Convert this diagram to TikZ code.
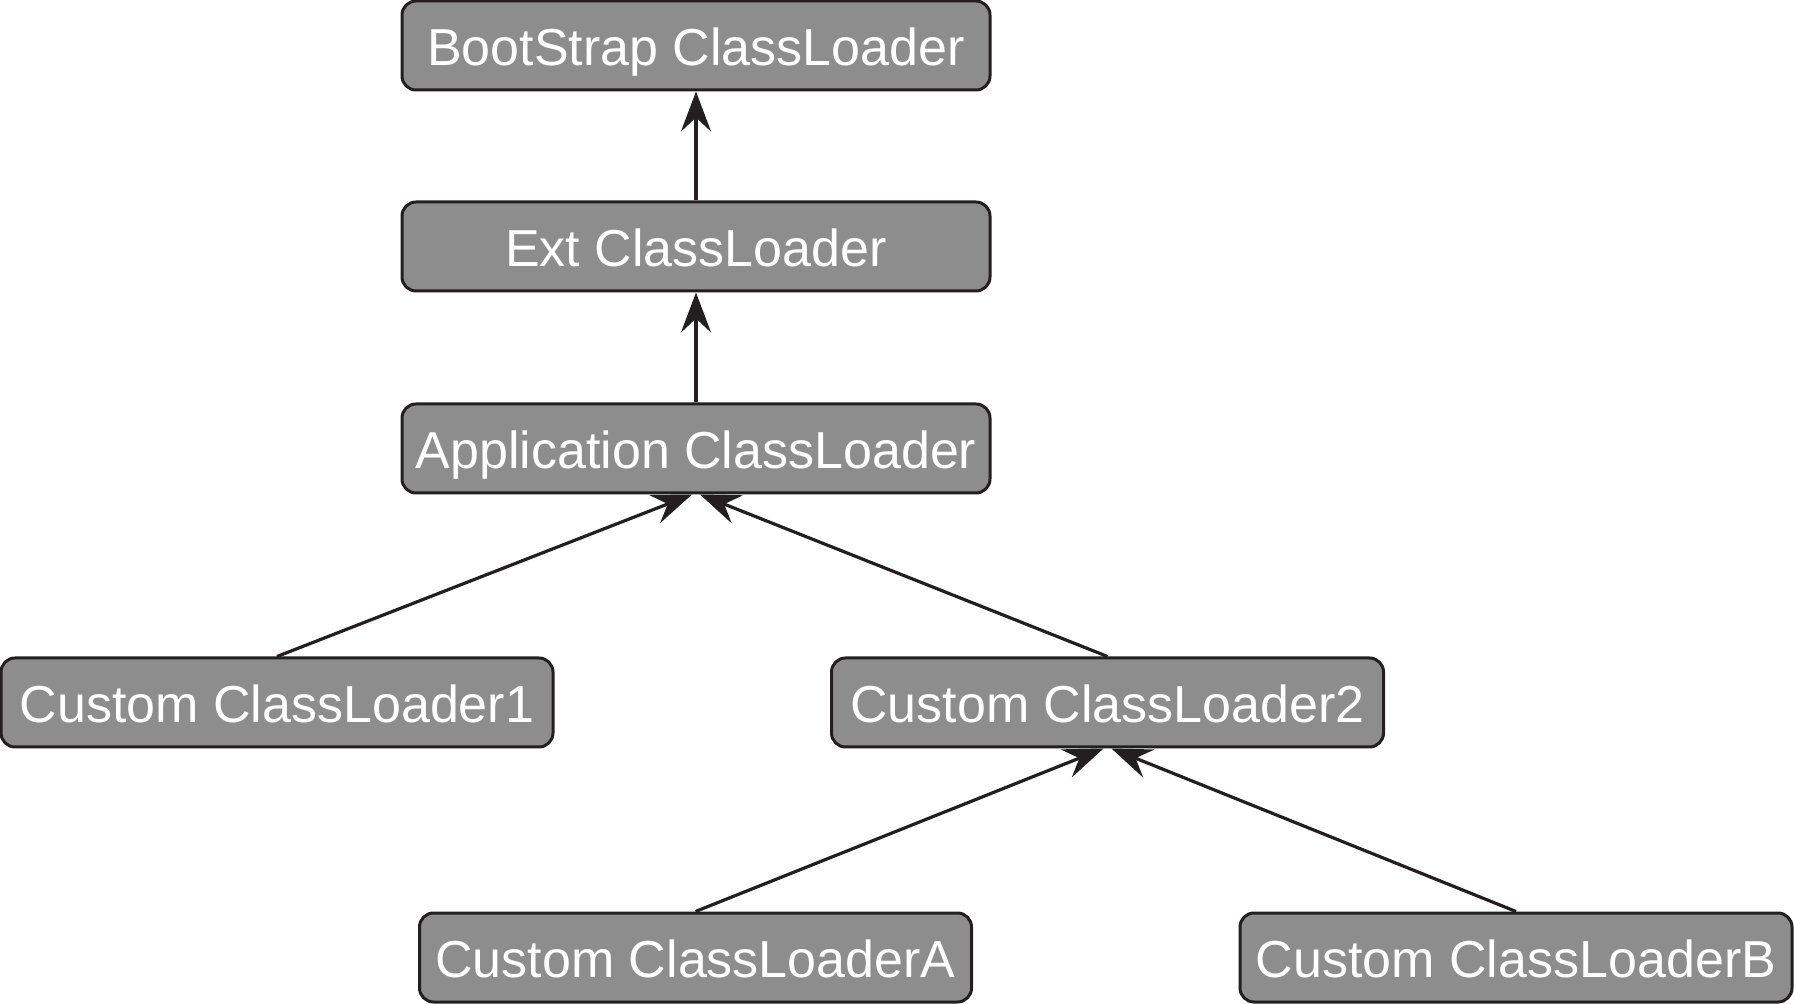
\documentclass[tikz,border=0pt]{standalone}
\usepackage{fontspec}
\setmainfont{Liberation Sans}
\usetikzlibrary{arrows.meta}
\definecolor{boxfill}{RGB}{141,141,141}
\definecolor{boxline}{RGB}{35,31,32}
\tikzset{
  loader/.style={draw=boxline, fill=boxfill, line width=1.5pt, rounded corners=7pt,
    minimum height=44.5pt, inner sep=0pt, text=white,
    text height=20.4pt, text depth=0pt,
    font=\fontsize{26}{30}\selectfont},
  wide/.style={loader, minimum width=294pt},
  narrow/.style={loader, minimum width=276pt},
  link/.style={draw=boxline, line width=1.6pt,
    -{Stealth[length=20pt, width=15pt, inset=7pt]}}
}
\begin{document}
\begin{tikzpicture}[x=0.5pt, y=-0.5pt]
\useasboundingbox (0,0) rectangle (1794,1004);
\node[wide] (boot) at (696,45.5) {BootStrap ClassLoader};
\node[wide] (ext) at (696,246.5) {Ext ClassLoader};
\node[wide] (app) at (696,448.5) {Application ClassLoader};
\node[narrow] (c1) at (277,702.5) {Custom ClassLoader1};
\node[narrow] (c2) at (1107.5,702.5) {Custom ClassLoader2};
\node[narrow] (ca) at (695.5,957.5) {Custom ClassLoaderA};
\node[narrow] (cb) at (1516,957.5) {Custom ClassLoaderB};
\draw[link] (ext.north) -- (boot.south);
\draw[link] (app.north) -- (ext.south);
\draw[link] (c1.north) -- ([xshift=-2pt]app.south);
\draw[link] (c2.north) -- ([xshift=2pt]app.south);
\draw[link] (ca.north) -- ([xshift=-2pt]c2.south);
\draw[link] (cb.north) -- ([xshift=2pt]c2.south);
\end{tikzpicture}
\end{document}
